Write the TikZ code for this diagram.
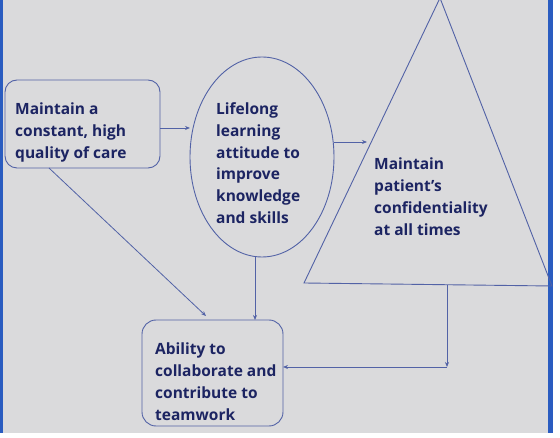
\documentclass[tikz,border=0pt]{standalone}
\usepackage{fontspec}
\setmainfont{Open Sans}
\usetikzlibrary{arrows.meta}
\definecolor{bgc}{HTML}{DADADC}
\definecolor{txt}{HTML}{1C2462}
\definecolor{ln}{HTML}{5262A6}
\definecolor{edge}{HTML}{2A5CC0}
\tikzset{
  shapeline/.style={draw=ln, line width=0.9pt},
  conn/.style={draw=ln, line width=0.8pt, -{Stealth[length=5pt,width=4pt]}},
  lbl/.style={text=txt, font=\fontsize{15.5}{21.8}\selectfont\bfseries, align=left, anchor=north west, inner sep=0pt},
}
\begin{document}
\begin{tikzpicture}[x=1pt,y=-1pt]
\useasboundingbox (0,0) rectangle (560,438);
\fill[bgc] (0,0) rectangle (553,433);
\fill[white] (0,433) rectangle (560,438);
\fill[white] (553,0) rectangle (560,438);
\fill[edge] (548,0) rectangle (553,433);
\fill[edge] (0,0) rectangle (2.5,433);
% shapes
\draw[shapeline, rounded corners=12pt] (5,80) rectangle (160,168);
\draw[shapeline] (262,157) ellipse [x radius=72, y radius=100];
\draw[shapeline] (440,-2) -- (552,286) -- (304,283) -- cycle;
\draw[shapeline, rounded corners=14pt] (142,320) rectangle (283,426);
% named anchors
\coordinate (b1r) at (160,128);
\coordinate (elL) at (190,128);
\coordinate (elR) at (333.5,142);
\coordinate (trL) at (367,142);
\coordinate (b1b) at (49,168);
\coordinate (b2d) at (206,316);
\coordinate (elB) at (255,257);
\coordinate (b2t) at (255,320);
\coordinate (trB) at (447,285);
\coordinate (cor) at (447,367);
\coordinate (b2r) at (283,367);
% texts
\node[lbl] (t1) at (15,102.5) {Maintain a\\constant, high\\quality of care};
\node[lbl] (t2) at (216,102.5) {Lifelong\\learning\\attitude to\\improve\\knowledge\\and skills};
\node[lbl] (t3) at (374,158) {Maintain\\patient’s\\confidentiality\\at all times};
\node[lbl] (t4) at (155,343) {Ability to\\collaborate and\\contribute to\\teamwork};
% connectors
\draw[conn] (b1r) -- (elL);
\draw[conn] (elR) -- (trL);
\draw[conn] (b1b) -- (b2d);
\draw[conn] (elB) -- (b2t);
\draw[conn] (trB) -- (cor);
\draw[conn] (cor) -- (b2r);
\end{tikzpicture}
\end{document}
